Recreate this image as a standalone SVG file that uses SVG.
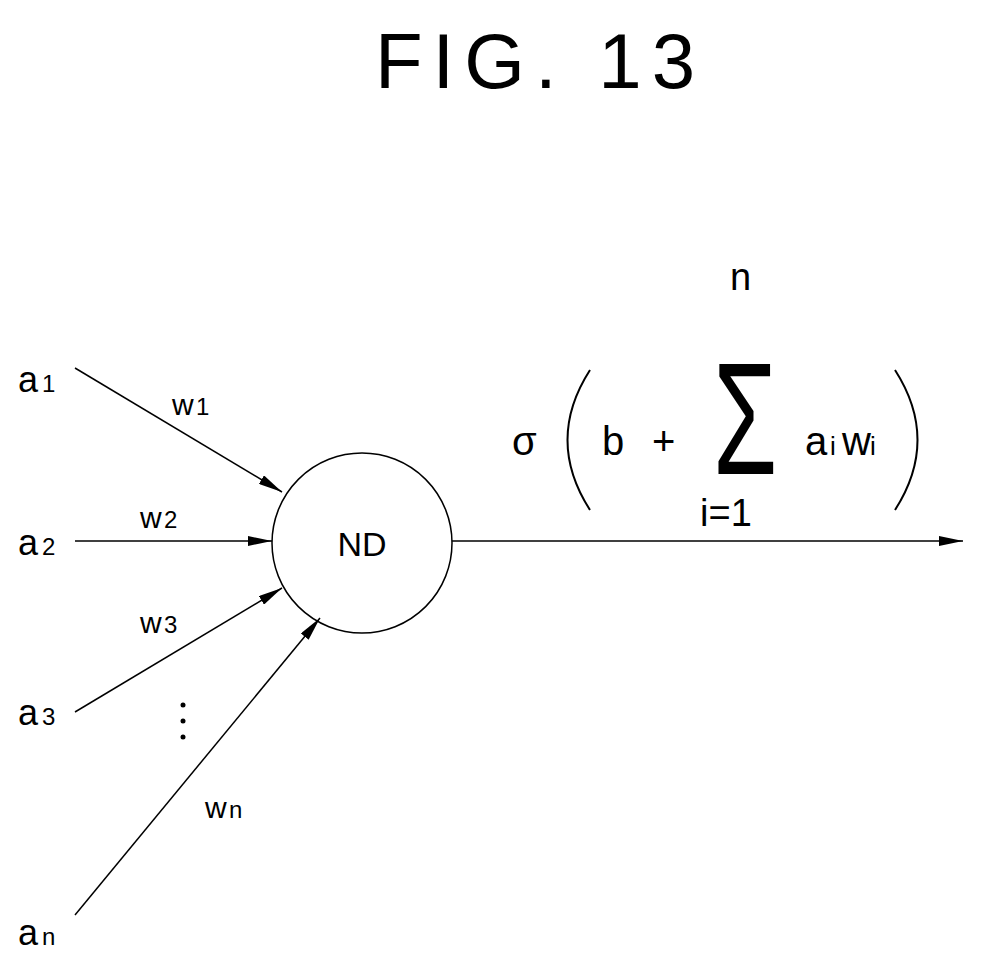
<svg xmlns="http://www.w3.org/2000/svg" width="984" height="963" viewBox="0 0 984 963">
<style>
text{font-family:"Liberation Sans",Arial,sans-serif;fill:#000}
.l{font-size:36px}
.s{font-size:24px}
.w{font-size:30px}
line{stroke:#000;stroke-width:1.5}
</style>
<defs><marker id="ar" markerWidth="24" markerHeight="10" refX="24" refY="5" orient="auto" markerUnits="userSpaceOnUse"><path d="M0,0 L24,5 L0,10 Z" fill="#000"/></marker></defs>
<rect width="984" height="963" fill="#fff"/>
<text x="540" y="88" font-size="78" text-anchor="middle" letter-spacing="10">FIG. 13</text>
<g id="connectors">
<line x1="75" y1="368" x2="282" y2="492" marker-end="url(#ar)"/>
<line x1="75" y1="541" x2="272" y2="541" marker-end="url(#ar)"/>
<line x1="75" y1="712" x2="282" y2="588" marker-end="url(#ar)"/>
<line x1="75" y1="915" x2="320" y2="618" marker-end="url(#ar)"/>
<line x1="452" y1="541" x2="963" y2="541" marker-end="url(#ar)"/>
</g>
<g id="nd"><circle cx="362" cy="543" r="90" fill="none" stroke="#000" stroke-width="1.5"/><text x="362" y="556" font-size="34" text-anchor="middle">ND</text></g>
<g id="inputs">
<text x="18" y="392" class="l">a</text><text x="42" y="392" class="s">1</text>
<text x="18" y="555" class="l">a</text><text x="42" y="555" class="s">2</text>
<text x="18" y="725" class="l">a</text><text x="42" y="725" class="s">3</text>
<text x="18" y="945" class="l">a</text><text x="42" y="945" class="s">n</text>
</g>
<g id="weights">
<text x="172" y="415" class="w">w</text><text x="196" y="415" class="s">1</text>
<text x="140" y="528" class="w">w</text><text x="164" y="528" class="s">2</text>
<text x="140" y="633" class="w">w</text><text x="164" y="633" class="s">3</text>
<text x="205" y="818" class="w">w</text><text x="229" y="818" class="s">n</text>
</g>
<g id="dots"><circle cx="183" cy="705" r="2.5"/><circle cx="183" cy="721" r="2.5"/><circle cx="183" cy="737" r="2.5"/></g>
<g id="formula">
<text x="512" y="455" font-size="40">σ</text>
<path d="M590,370 Q545,440 590,510" fill="none" stroke="#000" stroke-width="2"/>
<text x="602" y="455" font-size="40">b</text>
<text x="652" y="455" font-size="40">+</text>
<text transform="translate(713,474) scale(0.65,1)" font-size="160">Σ</text>
<text x="730" y="290" font-size="38">n</text>
<text x="700" y="526" font-size="38">i=1</text>
<text x="805" y="455" font-size="40">a</text><text x="830" y="455" font-size="26">i</text><text x="842" y="455" font-size="40">w</text><text x="870" y="455" font-size="26">i</text>
<path d="M895,370 Q940,440 895,510" fill="none" stroke="#000" stroke-width="2"/>
</g>
</svg>
